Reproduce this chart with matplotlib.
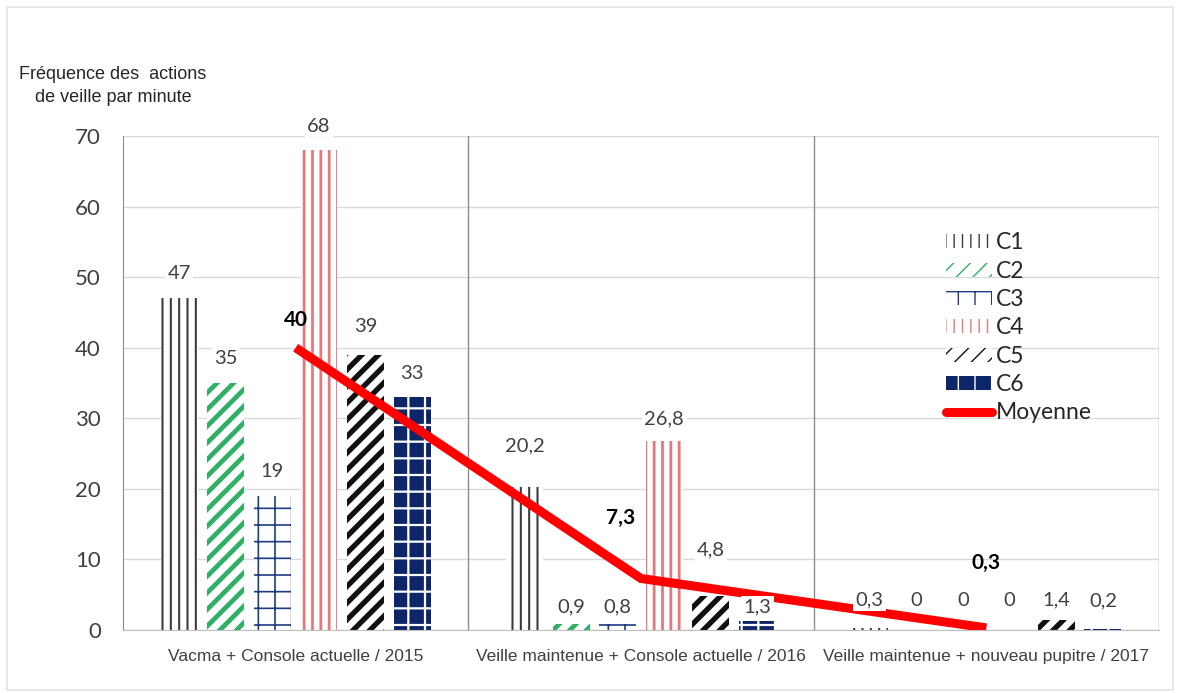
import numpy as np
import matplotlib.pyplot as plt
from matplotlib import font_manager
from matplotlib.lines import Line2D
from matplotlib.patches import Rectangle

# données : fréquence des actions de veille par minute
groups = ["Vacma + Console actuelle / 2015",
          "Veille maintenue + Console actuelle / 2016",
          "Veille maintenue + nouveau pupitre / 2017"]
series = ["C1", "C2", "C3", "C4", "C5", "C6"]
c1 = [47, 20.2, 0.3]
c2 = [35, 0.9, 0]
c3 = [19, 0.8, 0]
c4 = [68, 26.8, 0]
c5 = [39, 4.8, 1.4]
c6 = [33, 1.3, 0.2]
moyenne = [40, 7.3, 0.3]
yticks = [0, 10, 20, 30, 40, 50, 60, 70]

values = [c1, c2, c3, c4, c5, c6]

# face, couleur des hachures, motif, épaisseur
styles = [
    ("white", "#3c3c3c", "||", 1.5),
    ("white", "#2fb064", "//", 3.4),
    ("white", "#1f3c82", "+", 1.2),
    ("white", "#e8777b", "||", 2.0),
    ("white", "#111111", "//", 3.8),
    ("#0c2669", "white", "+", 1.6),
]
# décalage vertical des étiquettes (pixels)
lab_off = [
    [25, 42, 28],
    [24, 17, 30],
    [24, 17, 30],
    [24, 22, 30],
    [28, 46, 20],
    [24, 14, 28],
]
moy_off = [(0, 28), (-20, 61), (0, 65)]

W, H = 1178, 693
names = {f.name for f in font_manager.fontManager.ttflist}
narrow = "Liberation Sans Narrow" if "Liberation Sans Narrow" in names else "Liberation Sans"
plt.rcParams["font.family"] = "Lato"

fig = plt.figure(figsize=(W / 100, H / 100), dpi=100)
ax = fig.add_axes([123 / W, 1 - 630 / H, (1159 - 123) / W, (630 - 136) / H])

x = np.arange(len(groups))
step = 0.135
width = 0.107

handles = []
for i, (name, vals) in enumerate(zip(series, values)):
    face, hc, hatch, hlw = styles[i]
    with plt.rc_context({"hatch.linewidth": hlw}):
        bars = ax.bar(x + (i - 2.5) * step, vals, width, color=face, edgecolor=hc,
                      hatch=hatch, linewidth=0, zorder=2, label=name)
    for b in bars:
        if hasattr(b, "set_hatch_linewidth"):
            b.set_hatch_linewidth(hlw)
    handles.append(bars)
    for j, v in enumerate(vals):
        ax.annotate(f"{v:g}".replace(".", ","), (x[j] + (i - 2.5) * step, v),
                    xytext=(0, lab_off[i][j]), textcoords="offset pixels",
                    ha="center", va="center", fontsize=14.5, color="#404040", zorder=6,
                    bbox=dict(boxstyle="square,pad=0.12", fc="white", ec="none"))

line, = ax.plot(x, moyenne, color="#ff0000", lw=6.5, solid_capstyle="butt",
                solid_joinstyle="miter", zorder=4, label="Moyenne")
handles.append(Line2D([], [], color="#ff0000", lw=6.5, solid_capstyle="round"))
for j, v in enumerate(moyenne):
    ax.annotate(f"{v:g}".replace(".", ","), (x[j], v), xytext=moy_off[j],
                textcoords="offset pixels", ha="center", va="center",
                fontsize=15, fontweight="bold", color="black", zorder=7)

ax.set_xlim(-0.5, 2.5)
ax.set_ylim(0, 70)
ax.set_yticks(yticks)
ax.set_xticks(x)
ax.set_xticklabels(groups, family=narrow, fontsize=12.5, color="#404040")
ax.tick_params(axis="y", length=0, pad=16, labelsize=16, labelcolor="#404040")
ax.tick_params(axis="x", length=0, pad=14)
ax.yaxis.grid(True, color="#d9d9d9", lw=1, zorder=0)
ax.set_axisbelow(True)
for b in [0.5, 1.5, 2.5]:
    ax.axvline(b, color="#8c8c8c", lw=1, zorder=1)
for s in ["top", "right"]:
    ax.spines[s].set_visible(False)
ax.spines["left"].set_color("#8c8c8c")
ax.spines["bottom"].set_color("#bfbfbf")

ax.legend(handles, series + ["Moyenne"], loc="upper left",
          bbox_to_anchor=(935 / W, 1 - 221 / H), bbox_transform=fig.transFigure,
          frameon=False, fontsize=16.5, handlelength=2.0, handleheight=0.55,
          handletextpad=0.15, labelspacing=0.32, borderpad=0, labelcolor="#262626")

fig.text(113 / W, 1 - 86 / H, "Fréquence des  actions\nde veille par minute",
         ha="center", va="center", family=narrow, fontsize=13, color="#262626",
         linespacing=1.5)

fig.patches.append(Rectangle((7 / W, 1 - 690 / H), (1173 - 7) / W, (690 - 7) / H,
                             transform=fig.transFigure, fill=False, ec="#e3e3e3", lw=1.2))

fig.savefig("out.png", dpi=100)
